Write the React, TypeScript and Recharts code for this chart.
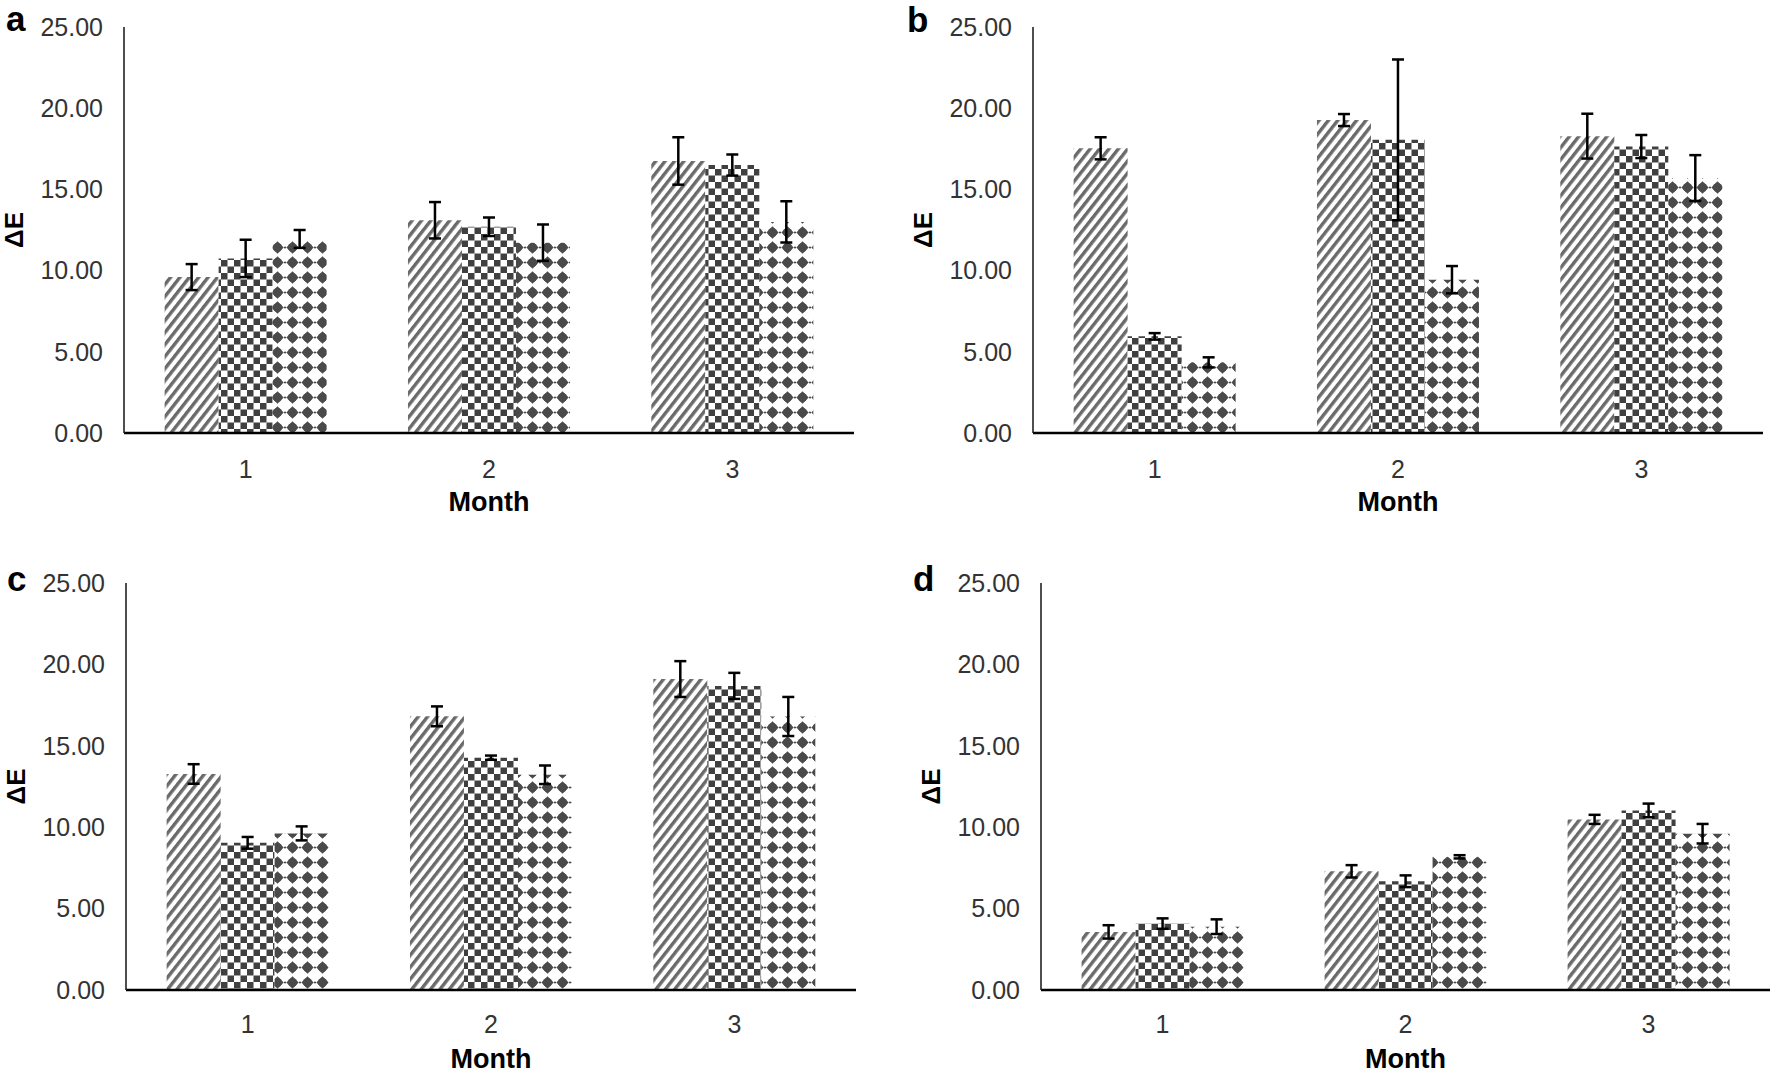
import React from "react";
import { BarChart, Bar, XAxis, YAxis, ErrorBar } from "recharts";

const months = ["1", "2", "3"];
const yTicks = [0, 5, 10, 15, 20, 25];

// panel a
const aStripe = [9.6, 13.1, 16.75];
const aStripeErr = [0.8, 1.12, 1.46];
const aChecker = [10.75, 12.7, 16.5];
const aCheckerErr = [1.15, 0.57, 0.65];
const aDots = [11.95, 11.72, 13.0];
const aDotsErr = [0.55, 1.12, 1.27];

// panel b
const bStripe = [17.53, 19.27, 18.28];
const bStripeErr = [0.68, 0.37, 1.38];
const bChecker = [5.95, 18.05, 17.64];
const bCheckerErr = [0.2, 4.95, 0.71];
const bDots = [4.35, 9.44, 15.7];
const bDotsErr = [0.31, 0.84, 1.41];

// panel c
const cStripe = [13.27, 16.81, 19.1];
const cStripeErr = [0.6, 0.61, 1.1];
const cChecker = [9.04, 14.27, 18.68];
const cCheckerErr = [0.36, 0.13, 0.8];
const cDots = [9.62, 13.22, 16.8];
const cDotsErr = [0.43, 0.57, 1.2];

// panel d
const dStripe = [3.57, 7.29, 10.48];
const dStripeErr = [0.41, 0.38, 0.28];
const dChecker = [4.08, 6.68, 11.03];
const dCheckerErr = [0.32, 0.36, 0.42];
const dDots = [3.89, 8.18, 9.6];
const dDotsErr = [0.45, 0.1, 0.6];

const FONT = '"Liberation Sans", Arial, sans-serif';

type PanelProps = {
  id: string;
  left: number;
  top: number;
  width: number;
  height: number;
  plotLeft: number;
  plotRight: number;
  plotTop: number;
  plotBottom: number;
  tickGap: number;
  stripe: number[];
  stripeErr: number[];
  checker: number[];
  checkerErr: number[];
  dots: number[];
  dotsErr: number[];
};

const Panel: React.FC<PanelProps> = (p) => {
  const data = months.map((m, i) => ({
    month: m,
    stripe: p.stripe[i],
    stripeErr: p.stripeErr[i],
    checker: p.checker[i],
    checkerErr: p.checkerErr[i],
    dots: p.dots[i],
    dotsErr: p.dotsErr[i],
  }));

  const yAxisWidth = p.plotLeft - p.left;
  const xAxisHeight = p.top + p.height - p.plotBottom;
  const mTop = p.plotTop - p.top;
  const mRight = p.left + p.width - p.plotRight;
  const plotW = p.plotRight - p.plotLeft;
  const plotH = p.plotBottom - p.plotTop;

  const monthLabel = () => (
    <text
      x={yAxisWidth + plotW / 2}
      y={mTop + plotH + 78}
      textAnchor="middle"
      fontFamily={FONT}
      fontWeight="bold"
      fontSize={27}
      fill="#000"
    >
      Month
    </text>
  );

  const deltaLabel = () => {
    const cx = yAxisWidth - 110;
    const cy = mTop + plotH / 2;
    return (
      <text
        x={cx}
        y={cy}
        transform={`rotate(-90 ${cx} ${cy})`}
        textAnchor="middle"
        dominantBaseline="central"
        fontFamily={FONT}
        fontWeight="bold"
        fontSize={26}
        fill="#000"
      >
        ΔE
      </text>
    );
  };

  return (
    <div style={{ position: "absolute", left: p.left, top: p.top }}>
      <BarChart
        width={p.width}
        height={p.height}
        data={data}
        margin={{ top: mTop, right: mRight, bottom: 0, left: 0 }}
        barCategoryGap="16.7%"
        barGap={0}
      >
        <defs>
          <pattern
            id={`${p.id}-stripe`}
            patternUnits="userSpaceOnUse"
            width={7.4}
            height={10}
            patternTransform="rotate(38)"
          >
            <rect width={7.4} height={10} fill="#fff" />
            <rect x={0} width={3.4} height={10} fill="#6a6a6a" />
          </pattern>
          <pattern
            id={`${p.id}-checker`}
            patternUnits="userSpaceOnUse"
            width={13}
            height={13}
          >
            <rect width={13} height={13} fill="#fff" />
            <rect x={0} y={0} width={6.5} height={6.5} fill="#404040" />
            <rect x={6.5} y={6.5} width={6.5} height={6.5} fill="#404040" />
          </pattern>
          <pattern
            id={`${p.id}-dots`}
            patternUnits="userSpaceOnUse"
            width={15}
            height={15}
          >
            <rect width={15} height={15} fill="#fff" />
            <path d="M7.5 1.3 L13.7 7.5 L7.5 13.7 L1.3 7.5 Z" fill="#4a4a4a" />
            <circle cx={7.5} cy={7.5} r={4.5} fill="#4a4a4a" />
            <circle cx={0} cy={7.5} r={1.1} fill="#4a4a4a" />
            <circle cx={15} cy={7.5} r={1.1} fill="#4a4a4a" />
          </pattern>
        </defs>
        <XAxis
          dataKey="month"
          height={xAxisHeight}
          tickLine={false}
          tickSize={0}
          tickMargin={p.tickGap}
          axisLine={{ stroke: "#000", strokeWidth: 2.5 }}
          tick={{ fontSize: 25, fill: "#333", fontFamily: FONT }}
          label={{ content: monthLabel }}
        />
        <YAxis
          width={yAxisWidth}
          domain={[0, 25]}
          ticks={yTicks}
          interval={0}
          tickLine={false}
          tickSize={0}
          tickMargin={21}
          tickFormatter={(v: number) => v.toFixed(2)}
          axisLine={{ stroke: "#222", strokeWidth: 1.6 }}
          tick={{ fontSize: 25, fill: "#333", fontFamily: FONT }}
          label={{ content: deltaLabel }}
        />
        <Bar dataKey="stripe" fill={`url(#${p.id}-stripe)`} isAnimationActive={false}>
          <ErrorBar dataKey="stripeErr" width={6} stroke="#000" strokeWidth={2.5} isAnimationActive={false} />
        </Bar>
        <Bar dataKey="checker" fill={`url(#${p.id}-checker)`} isAnimationActive={false}>
          <ErrorBar dataKey="checkerErr" width={6} stroke="#000" strokeWidth={2.5} isAnimationActive={false} />
        </Bar>
        <Bar dataKey="dots" fill={`url(#${p.id}-dots)`} isAnimationActive={false}>
          <ErrorBar dataKey="dotsErr" width={6} stroke="#000" strokeWidth={2.5} isAnimationActive={false} />
        </Bar>
      </BarChart>
    </div>
  );
};

const letters = [
  { t: "a", x: 6, y: 31 },
  { t: "b", x: 907, y: 32 },
  { t: "c", x: 7, y: 591 },
  { t: "d", x: 913, y: 591 },
];

export default function App() {
  return (
    <div
      style={{
        position: "absolute",
        left: 0,
        top: 0,
        width: 1770,
        height: 1071,
        background: "#fff",
        overflow: "hidden",
      }}
    >
      <Panel
        id="pa"
        left={0}
        top={0}
        width={885}
        height={540}
        plotLeft={124}
        plotRight={854}
        plotTop={27}
        plotBottom={433}
        tickGap={27}
        stripe={aStripe}
        stripeErr={aStripeErr}
        checker={aChecker}
        checkerErr={aCheckerErr}
        dots={aDots}
        dotsErr={aDotsErr}
      />
      <Panel
        id="pb"
        left={885}
        top={0}
        width={885}
        height={540}
        plotLeft={1033}
        plotRight={1763}
        plotTop={27}
        plotBottom={433}
        tickGap={27}
        stripe={bStripe}
        stripeErr={bStripeErr}
        checker={bChecker}
        checkerErr={bCheckerErr}
        dots={bDots}
        dotsErr={bDotsErr}
      />
      <Panel
        id="pc"
        left={0}
        top={540}
        width={885}
        height={531}
        plotLeft={126}
        plotRight={856}
        plotTop={583}
        plotBottom={990}
        tickGap={25}
        stripe={cStripe}
        stripeErr={cStripeErr}
        checker={cChecker}
        checkerErr={cCheckerErr}
        dots={cDots}
        dotsErr={cDotsErr}
      />
      <Panel
        id="pd"
        left={885}
        top={540}
        width={885}
        height={531}
        plotLeft={1041}
        plotRight={1770}
        plotTop={583}
        plotBottom={990}
        tickGap={25}
        stripe={dStripe}
        stripeErr={dStripeErr}
        checker={dChecker}
        checkerErr={dCheckerErr}
        dots={dDots}
        dotsErr={dDotsErr}
      />
      <svg
        width={1770}
        height={1071}
        style={{ position: "absolute", left: 0, top: 0, pointerEvents: "none" }}
      >
        {letters.map((l) => (
          <text
            key={l.t}
            x={l.x}
            y={l.y}
            fontFamily={FONT}
            fontWeight="bold"
            fontSize={35}
            fill="#000"
          >
            {l.t}
          </text>
        ))}
      </svg>
    </div>
  );
}
